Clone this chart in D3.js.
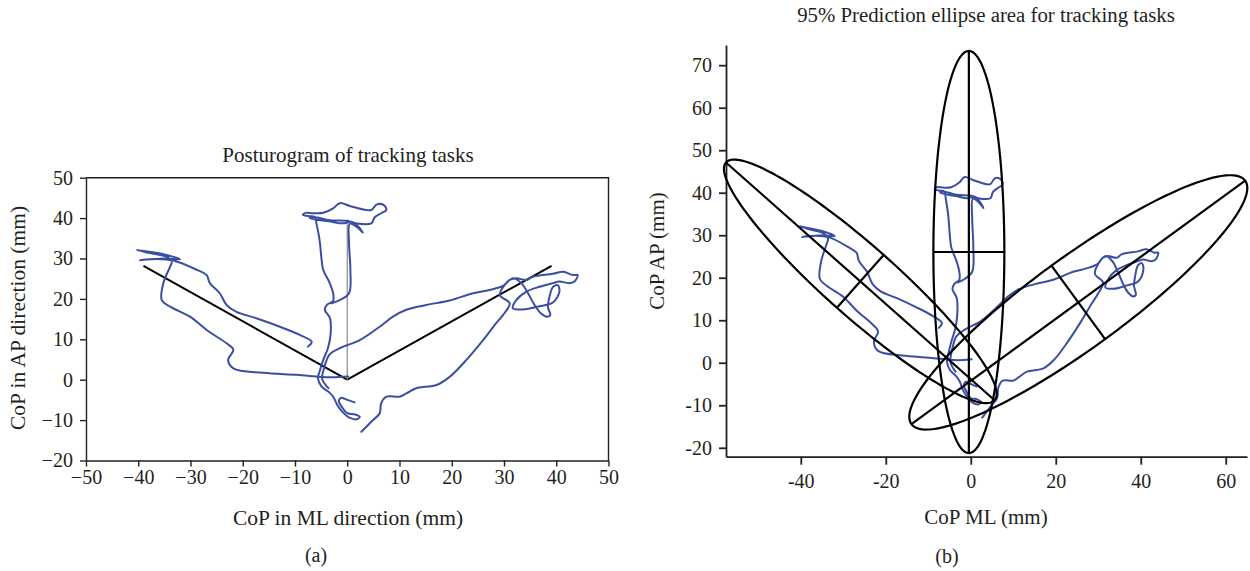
<!DOCTYPE html>
<html>
<head>
<meta charset="utf-8">
<script src="https://cdn.jsdelivr.net/npm/d3@7"></script>
<style>
  body { margin: 0; background: #fff; }
  text { font-family: "Liberation Serif", "DejaVu Serif", serif; fill: #231f20; }
</style>
</head>
<body>
<svg id="chart" width="1250" height="571"></svg>
<script>
// CoP trajectories (mm) of the three tracking tasks, shown in both panels
const trackLeft = [[0.2,0.8],[-3.3,0.6],[-9.7,1.2],[-16.1,1.7],[-21.8,2.8],[-22.8,4.9],[-21.8,7.4],[-23.1,9.0],
  [-26.9,12.3],[-30.1,15.6],[-33.9,18.1],[-35.5,19.7],[-35.2,23.9],[-33.9,28.0],[-33.6,29.2],[-34.5,30.4],
  [-38.0,31.4],[-40.3,32.1],[-39.3,31.9],[-35.0,31.0],[-32.0,29.8],[-35.0,30.0],[-39.7,29.6],[-36.5,29.9],
  [-33.3,29.5],[-28.8,27.2],[-26.9,25.9],[-26.3,23.9],[-24.4,21.4],[-23.1,18.5],[-21.2,16.8],[-17.4,15.2],
  [-12.9,13.1],[-9.1,11.1],[-6.8,9.4],[-7.5,8.2]];

const trackUp = [[1.4,-5.6],[0.0,-5.0],[-1.2,-4.5],[-1.6,-5.4],[-1.0,-6.8],[0.0,-8.3],[1.5,-8.6],[2.4,-9.2],
  [1.8,-9.8],[0.4,-9.4],[-0.6,-8.4],[-1.8,-6.5],[-2.6,-4.4],[-3.4,-3.2],[-4.9,-1.7],[-5.6,0.3],[-5.2,2.4],
  [-4.6,4.9],[-3.7,7.8],[-3.2,11.1],[-3.3,15.2],[-4.3,17.3],[-3.9,18.5],[-2.7,19.5],[-2.7,21.4],[-3.35,23.9],
  [-4.6,27.2],[-4.9,29.6],[-5.3,34.6],[-5.9,38.7],[-6.2,40.3],[-7.5,40.5],[-8.5,40.8],[-8.0,41.3],[-6.5,41.2],
  [-4.6,41.3],[-2.7,42.4],[-1.45,43.7],[0.5,43.0],[3.7,42.0],[4.6,42.0],[5.7,43.4],[7.0,43.2],[7.5,42.0],
  [6.5,41.2],[5.25,40.2],[4.6,38.7],[1.75,38.7],[0.15,39.3],[-3.35,39.5],[-6.5,40.3],[-7.2,40.0],[-3.5,39.2],
  [-0.8,38.7],[0.8,39.1],[2.1,37.9],[3.0,36.4],[2.0,37.6],[0.5,38.6],[0.34,33.8],[0.6,27.2],[0.34,21.4],
  [-1.45,19.7],[-3.0,18.9]];

const trackRight = [[-3.6,-2.1],[-4.8,0.2],[-4.4,3.0],[-3.4,6.2],[-1.4,7.8],[2.4,9.8],[6.2,13.1],[8.75,15.6],
  [11.3,17.3],[15.1,18.5],[19.6,19.6],[24.1,21.4],[27.2,22.2],[29.8,23.2],[31.1,24.7],[32.35,25.1],[34.3,24.7],
  [35.5,25.5],[39.35,26.2],[41.3,26.7],[43.2,25.9],[44.1,25.9],[43.5,24.3],[42.5,23.9],[40.6,24.3],[39.35,23.9],
  [36.8,23.0],[34.3,21.8],[32.35,19.7],[31.7,17.7],[33.6,17.4],[36.8,18.2],[39.35,19.1],[40.6,21.8],[40.3,23.4],
  [39.35,22.9],[38.7,20.5],[38.4,18.1],[38.85,16.0],[38.2,15.6],[37.1,16.4],[35.85,18.5],[34.6,21.4],[33.3,23.9],
  [31.7,25.1],[29.2,21.0],[31.1,18.9],[29.8,16.0],[28.5,14.0],[26.0,9.8],[22.8,4.9],[19.6,0.7],[17.1,-1.3],
  [13.2,-2.1],[11.3,-3.4],[10.0,-4.2],[7.5,-4.2],[6.5,-5.8],[6.2,-8.3],[4.6,-10.4],[2.7,-12.9]];

// target vectors of panel (a), from the origin
const vectorEnds = [[-39.0, 28.2], [39.1, 28.2], [0.0, 39.7]];
const vectorColors = ["#000", "#000", "#8a8a8a"];
const vectorWidths = [2, 2, 1.2];

// 95% prediction ellipses of panel (b)
const ellipseCenters = [[-26.0, 19.15], [-0.45, 26.05], [25.3, 14.2]];
const ellipseSemiMajor = [42.2, 47.3, 48.6];
const ellipseSemiMinor = [8.3, 8.35, 10.7];
const ellipseAngles = [-41.5, 90, 36.1];

// ticks
const ticksAx = [-50, -40, -30, -20, -10, 0, 10, 20, 30, 40, 50];
const labelsAx = ["\u221250", "\u221240", "\u221230", "\u221220", "\u221210", "0", "10", "20", "30", "40", "50"];
const ticksAy = [-20, -10, 0, 10, 20, 30, 40, 50];
const labelsAy = ["\u221220", "\u221210", "0", "10", "20", "30", "40", "50"];
const ticksBx = [-40, -20, 0, 20, 40, 60];
const labelsBx = ["-40", "-20", "0", "20", "40", "60"];
const ticksBy = [-20, -10, 0, 10, 20, 30, 40, 50, 60, 70];
const labelsBy = ["-20", "-10", "0", "10", "20", "30", "40", "50", "60", "70"];

const blue = "#3b4fa2";
const serif = "'Liberation Serif', 'DejaVu Serif', serif";
const svg = d3.select("#chart");
svg.append("rect").attr("width", 1250).attr("height", 571).attr("fill", "#fff");

const fmt = (ticks, labels) => d => labels[ticks.indexOf(d)];

// ---------- panel (a) ----------
let xA = d3.scaleLinear().domain([-50, 50]).range([86, 608.5]);
let yA = d3.scaleLinear().domain([-20, 50]).range([460.5, 177.7]);

let gA = svg.append("g");

gA.append("g")
  .attr("transform", "translate(0," + yA(-20) + ")")
  .call(d3.axisBottom(xA).tickValues(ticksAx).tickFormat(fmt(ticksAx, labelsAx)).tickSize(6).tickSizeOuter(0))
  .call(g => g.selectAll("text").attr("dy", null).attr("y", 23.5))
  .call(g => g.selectAll("line, path").attr("stroke", "#231f20").attr("stroke-width", 1.4));

gA.append("g")
  .attr("transform", "translate(" + xA(-50) + ",0)")
  .call(d3.axisLeft(yA).tickValues(ticksAy).tickFormat(fmt(ticksAy, labelsAy)).tickSize(6).tickSizeOuter(0))
  .call(g => g.selectAll("text").attr("x", -13))
  .call(g => g.selectAll("line, path").attr("stroke", "#231f20").attr("stroke-width", 1.4));

gA.selectAll("g").attr("font-family", serif).attr("font-size", 20);
gA.selectAll(".tick text").attr("fill", "#231f20");

// top and right frame
gA.append("path")
  .attr("d", "M" + xA(-50) + "," + yA(50) + "H" + xA(50) + "V" + yA(-20))
  .attr("fill", "none").attr("stroke", "#231f20").attr("stroke-width", 1.4);

vectorEnds.forEach((p, i) => {
  gA.append("line")
    .attr("x1", xA(0)).attr("y1", yA(0))
    .attr("x2", xA(p[0])).attr("y2", yA(p[1]))
    .attr("stroke", vectorColors[i]).attr("stroke-width", vectorWidths[i]);
});

let lineA = d3.line().x(d => xA(d[0])).y(d => yA(d[1])).curve(d3.curveCatmullRom.alpha(0.5));
[trackLeft, trackUp, trackRight].forEach(t => {
  gA.append("path").attr("d", lineA(t))
    .attr("fill", "none").attr("stroke", blue).attr("stroke-width", 2)
    .attr("stroke-linejoin", "round").attr("stroke-linecap", "round");
});

gA.append("text").attr("x", 348).attr("y", 161.5).attr("text-anchor", "middle")
  .style("font-size", "21px").text("Posturogram of tracking tasks");
gA.append("text").attr("x", 348).attr("y", 525).attr("text-anchor", "middle")
  .style("font-size", "21.5px").text("CoP in ML direction (mm)");
gA.append("text").attr("transform", "translate(25,318) rotate(-90)").attr("text-anchor", "middle")
  .style("font-size", "21.5px").text("CoP in AP direction (mm)");
gA.append("text").attr("x", 316).attr("y", 562).attr("text-anchor", "middle")
  .style("font-size", "20px").text("(a)");

// ---------- panel (b) ----------
let xB = d3.scaleLinear().domain([-57.6, 65]).range([726, 1247]);
let yB = d3.scaleLinear().domain([-22.1, 74.75]).range([456.7, 45]);

let gB = svg.append("g");

gB.append("g")
  .attr("transform", "translate(0," + yB(-22.1) + ")")
  .call(d3.axisBottom(xB).tickValues(ticksBx).tickFormat(fmt(ticksBx, labelsBx)).tickSize(8).tickSizeOuter(0))
  .call(g => g.selectAll("text").attr("dy", null).attr("y", 31))
  .call(g => g.selectAll("line, path").attr("stroke", "#231f20").attr("stroke-width", 1.8));

gB.append("g")
  .attr("transform", "translate(" + xB(-57.6) + ",0)")
  .call(d3.axisLeft(yB).tickValues(ticksBy).tickFormat(fmt(ticksBy, labelsBy)).tickSize(7).tickSizeOuter(0))
  .call(g => g.selectAll("text").attr("x", -14))
  .call(g => g.selectAll("line, path").attr("stroke", "#231f20").attr("stroke-width", 1.8));

gB.selectAll("g").attr("font-family", serif).attr("font-size", 20);
gB.selectAll(".tick text").attr("fill", "#231f20");

let lineB = d3.line().x(d => xB(d[0])).y(d => yB(d[1])).curve(d3.curveCatmullRom.alpha(0.5));
[trackLeft, trackUp, trackRight].forEach(t => {
  gB.append("path").attr("d", lineB(t))
    .attr("fill", "none").attr("stroke", blue).attr("stroke-width", 2)
    .attr("stroke-linejoin", "round").attr("stroke-linecap", "round");
});

// point on ellipse i at parameter t
function ellipsePoint(i, t) {
  const [cx, cy] = ellipseCenters[i];
  const a = ellipseSemiMajor[i], b = ellipseSemiMinor[i];
  const th = ellipseAngles[i] * Math.PI / 180;
  return [cx + a * Math.cos(t) * Math.cos(th) - b * Math.sin(t) * Math.sin(th),
          cy + a * Math.cos(t) * Math.sin(th) + b * Math.sin(t) * Math.cos(th)];
}

let lineE = d3.line().x(d => xB(d[0])).y(d => yB(d[1]));
ellipseCenters.forEach((c, i) => {
  const pts = d3.range(0, 181).map(k => ellipsePoint(i, k / 180 * 2 * Math.PI));
  gB.append("path").attr("d", lineE(pts) + "Z")
    .attr("fill", "none").attr("stroke", "#000").attr("stroke-width", 2.2);
  [[0, Math.PI], [Math.PI / 2, 3 * Math.PI / 2]].forEach(([t1, t2]) => {
    const p1 = ellipsePoint(i, t1), p2 = ellipsePoint(i, t2);
    gB.append("line")
      .attr("x1", xB(p1[0])).attr("y1", yB(p1[1]))
      .attr("x2", xB(p2[0])).attr("y2", yB(p2[1]))
      .attr("stroke", "#000").attr("stroke-width", 2.2);
  });
});

gB.append("text").attr("x", 986).attr("y", 21.5).attr("text-anchor", "middle")
  .style("font-size", "20.8px").text("95% Prediction ellipse area for tracking tasks");
gB.append("text").attr("x", 986).attr("y", 524).attr("text-anchor", "middle")
  .style("font-size", "21px").text("CoP ML (mm)");
gB.append("text").attr("transform", "translate(664,251) rotate(-90)").attr("text-anchor", "middle")
  .style("font-size", "21px").text("CoP AP (mm)");
gB.append("text").attr("x", 947).attr("y", 563).attr("text-anchor", "middle")
  .style("font-size", "20px").text("(b)");
</script>
</body>
</html>
